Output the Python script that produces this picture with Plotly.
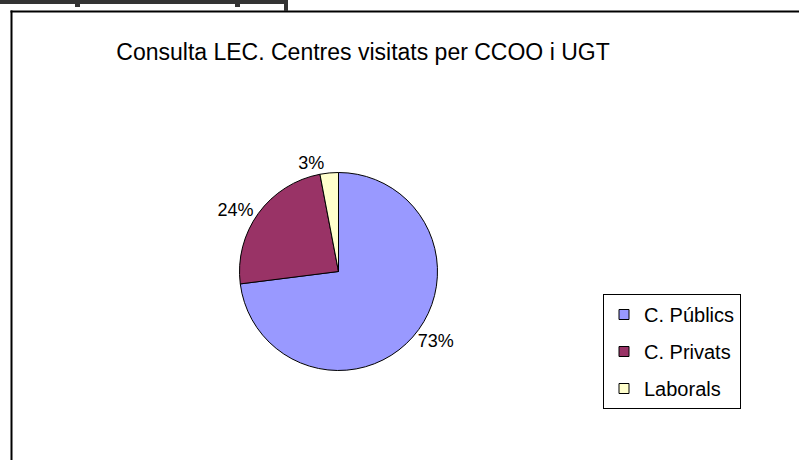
import plotly.graph_objects as go

W, H = 799, 460

title_text = "Consulta LEC. Centres visitats per CCOO i UGT"
categories = ["C. Públics", "C. Privats", "Laborals"]
values = [73, 24, 3]
colors = ["#9999FF", "#993366", "#FFFFCC"]

FONT = "Liberation Sans, Arial, sans-serif"

def px_x(x):
    return x / W

def px_y(y):
    return 1 - y / H

cx, cy, r = 338.5, 271.5, 99

fig = go.Figure()
fig.add_trace(go.Pie(
    labels=categories,
    values=values,
    sort=False,
    direction="clockwise",
    rotation=0,
    marker=dict(colors=colors, line=dict(color="black", width=1)),
    textinfo="percent",
    textposition="outside",
    textfont=dict(family=FONT, size=18, color="black"),
    showlegend=False,
    domain=dict(x=[px_x(cx - r), px_x(cx + r)], y=[px_y(cy + r), px_y(cy - r)]),
    hoverinfo="label+percent",
))

for i, (name, col) in enumerate(zip(categories, colors)):
    fig.add_trace(go.Scatter(
        x=[None], y=[None], mode="markers", name=name,
        legendgroup=f"g{i}",
        marker=dict(symbol="square", size=10, color=col, line=dict(color="black", width=1)),
    ))

shapes = [
    # chart frame (top and left edges; the rest lies outside the view)
    dict(type="line", xref="paper", yref="paper",
         x0=px_x(10.5), x1=1, y0=px_y(11.5), y1=px_y(11.5),
         line=dict(color="black", width=2)),
    dict(type="line", xref="paper", yref="paper",
         x0=px_x(11.5), x1=px_x(11.5), y0=0, y1=px_y(10.5),
         line=dict(color="black", width=2)),
    # top spreadsheet strip
    dict(type="rect", xref="paper", yref="paper",
         x0=0, x1=px_x(288), y0=px_y(4), y1=1,
         line=dict(width=0), fillcolor="#333333"),
    dict(type="rect", xref="paper", yref="paper",
         x0=px_x(75), x1=px_x(80), y0=px_y(7), y1=1,
         line=dict(width=0), fillcolor="#333333"),
    dict(type="rect", xref="paper", yref="paper",
         x0=px_x(235), x1=px_x(240), y0=px_y(7), y1=1,
         line=dict(width=0), fillcolor="#333333"),
    dict(type="rect", xref="paper", yref="paper",
         x0=px_x(284), x1=px_x(288), y0=px_y(11), y1=1,
         line=dict(width=0), fillcolor="#333333"),
]

fig.update_layout(
    width=W, height=H,
    margin=dict(l=0, r=0, t=0, b=0),
    paper_bgcolor="white", plot_bgcolor="rgba(0,0,0,0)",
    xaxis=dict(visible=False, showline=False, zeroline=False, showgrid=False),
    yaxis=dict(visible=False, showline=False, zeroline=False, showgrid=False),
    title=dict(text=title_text, x=px_x(363), xanchor="center", xref="paper",
               y=px_y(52), yref="paper", yanchor="middle",
               font=dict(family=FONT, size=23, color="black")),
    legend=dict(x=px_x(603), y=px_y(294), xanchor="left", yanchor="top",
                bordercolor="black", borderwidth=1, bgcolor="white",
                font=dict(family=FONT, size=20, color="black"),
                tracegroupgap=8, traceorder="grouped"),
    shapes=shapes,
)

fig.write_html(
    "out.html",
    config={"displayModeBar": False},
    post_script="document.body.style.margin='0';document.body.style.overflow='hidden';"
                "document.documentElement.style.overflow='hidden';",
)
